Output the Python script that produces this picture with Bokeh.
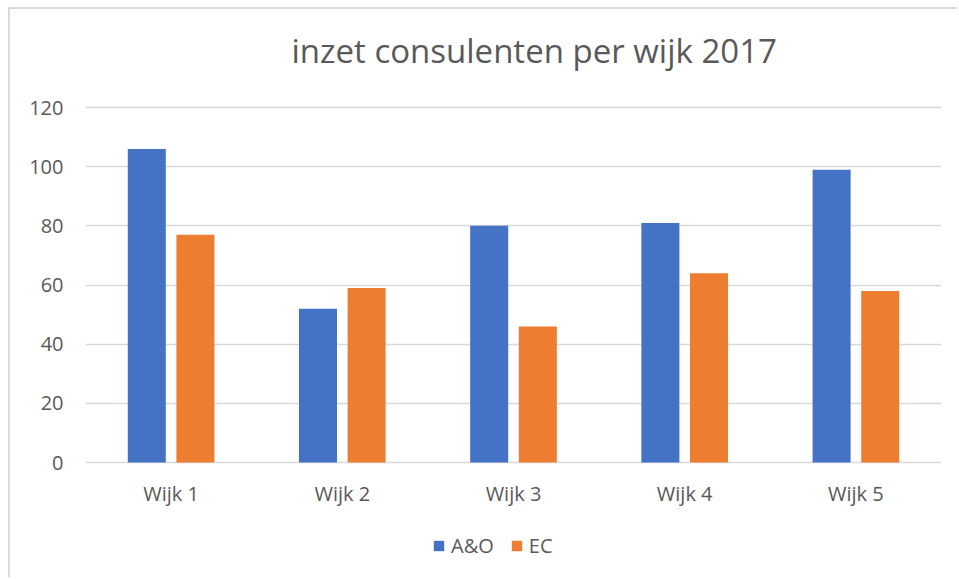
from bokeh.plotting import figure
from bokeh.models import ColumnDataSource, FactorRange, Range1d, FixedTicker, Legend, LegendItem, Title
from bokeh.core.properties import value
from bokeh.transform import dodge
from bokeh.embed import file_html
from bokeh.resources import INLINE

wijken = ["Wijk 1", "Wijk 2", "Wijk 3", "Wijk 4", "Wijk 5"]
ao = [106, 52, 80, 81, 99]
ec = [77, 59, 46, 64, 58]
y_ticks = [0, 20, 40, 60, 80, 100, 120]
series_names = ["A&O", "EC"]
title_text = "inzet consulenten per wijk 2017"

FONT = "Open Sans"
TXT = "#595959"

# layout: canvas starts after an 8/7px white margin and a 2px grey border
OX, OY = 10, 9
W, H = 959 - OX, 579 - OY
FRAME_TOP, FRAME_BOTTOM = 77 - OY, 570 - OY
GRID_TOP, GRID_ZERO = 107 - OY, 462 - OY   # pixel rows of the top gridline and of zero
px_per_unit = (GRID_ZERO - GRID_TOP) / y_ticks[-1]
y_end = y_ticks[-1] + (GRID_TOP - FRAME_TOP) / px_per_unit
y_start = -(FRAME_BOTTOM - GRID_ZERO) / px_per_unit

src = ColumnDataSource(dict(wijk=wijken, ao=ao, ec=ec, base=[0] * len(wijken)))

p = figure(
    width=W, height=H,
    x_range=FactorRange(*wijken, range_padding=0),
    y_range=Range1d(y_start, y_end),
    x_axis_location=None,
    output_backend="svg", toolbar_location=None,
    min_border_left=85 - OX, min_border_right=18, min_border_top=FRAME_TOP,
    min_border_bottom=H - FRAME_BOTTOM,
    styles={"margin-left": "8px", "margin-top": "7px",
            "border-top": "2px solid #d9d9d9", "border-left": "2px solid #d9d9d9"},
)
p.outline_line_color = None
p.background_fill_color = "white"
p.border_fill_color = "white"

t = Title(text=title_text, align="left", offset=206, text_font=FONT,
          text_font_size="33px", text_font_style="normal", text_color=TXT,
          standoff=10)
p.add_layout(t, "above")

r1 = p.vbar(x=dodge("wijk", -0.142, range=p.x_range), top="ao", width=0.222,
            source=src, fill_color="#4472C4", line_color=None)
r2 = p.vbar(x=dodge("wijk", 0.142, range=p.x_range), top="ec", width=0.222,
            source=src, fill_color="#ED7D31", line_color=None)

# category labels under the zero line
p.text(x="wijk", y="base", text="wijk", source=src, y_offset=31,
       text_align="center", text_baseline="middle",
       text_font=value(FONT), text_font_size="20px", text_color=TXT)

p.xgrid.grid_line_color = None
p.ygrid.grid_line_color = "#d9d9d9"
p.ygrid.grid_line_width = 1.5
p.yaxis.ticker = FixedTicker(ticks=y_ticks)
p.ygrid.ticker = FixedTicker(ticks=y_ticks)

ax = p.yaxis[0]
ax.axis_line_color = None
ax.major_tick_line_color = None
ax.minor_tick_line_color = None
ax.major_tick_in = 0
ax.major_tick_out = 0
ax.major_label_text_font = FONT
ax.major_label_text_font_size = "20px"
ax.major_label_text_color = TXT
ax.major_label_standoff = 22

legend = Legend(items=[LegendItem(label=series_names[0], renderers=[r1]),
                       LegendItem(label=series_names[1], renderers=[r2])],
                orientation="horizontal", location=(347, 11),
                padding=0, margin=0, spacing=16, label_standoff=6,
                glyph_width=13, glyph_height=13,
                label_text_font=FONT, label_text_font_size="20px", label_text_color=TXT,
                border_line_color=None, background_fill_alpha=0)
p.add_layout(legend, "center")

open("out.html", "w").write(file_html(p, INLINE))
